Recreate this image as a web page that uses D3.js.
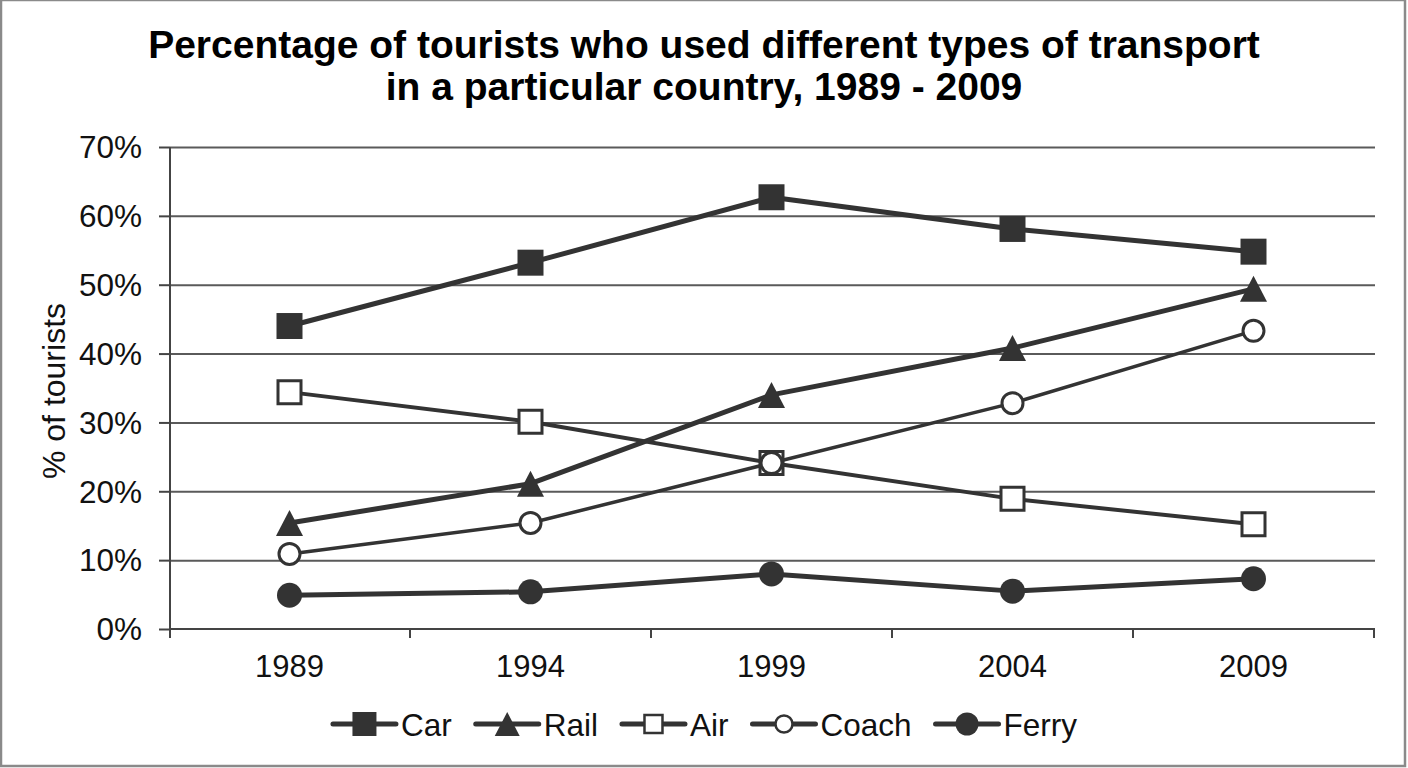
<!DOCTYPE html>
<html><head><meta charset="utf-8">
<script src="https://cdn.jsdelivr.net/npm/d3@7"></script>
<style>
body{margin:0;background:#fff}
svg{display:block}
text{font-family:"Liberation Sans",Arial,Helvetica,sans-serif;fill:#111}
</style>
</head><body>
<svg id="c" width="1408" height="768"></svg>
<script>
// ---- data ----
const years = ["1989", "1994", "1999", "2004", "2009"];
const car   = [44.0, 53.2, 62.7, 58.1, 54.8];
const rail  = [15.4, 21.1, 34.0, 40.8, 49.4];
const air   = [34.4, 30.1, 24.1, 18.9, 15.2];
const coach = [10.9, 15.4, 24.1, 32.8, 43.3];
const ferry = [4.9, 5.4, 8.0, 5.5, 7.3];
const seriesNames = ["Car", "Rail", "Air", "Coach", "Ferry"];
const yTicks = [0, 10, 20, 30, 40, 50, 60, 70];
const titleLines = ["Percentage of tourists who used different types of transport",
                    "in a particular country, 1989 - 2009"];
const yLabel = "% of tourists";

// ---- styles ----
const INK = "#333";
const triangle = {
  draw(ctx, size) {
    const h = Math.sqrt(size);
    ctx.moveTo(0, -h / 2);
    ctx.lineTo(h * 0.52, h / 2);
    ctx.lineTo(-h * 0.52, h / 2);
    ctx.closePath();
  }
};
const styles = {
  Car:   {values: car,   type: d3.symbolSquare, size: 26 * 26, lsize: 24 * 24, fill: INK,    sw: 0, lw: 5},
  Rail:  {values: rail,  type: triangle,        size: 26 * 26, lsize: 24 * 24, fill: INK,    sw: 0, lw: 5},
  Air:   {values: air,   type: d3.symbolSquare, size: 23 * 23, lsize: 18 * 18, fill: "#fff", sw: 3, lw: 4},
  Coach: {values: coach, type: d3.symbolCircle, size: Math.PI * 10.5 * 10.5, lsize: Math.PI * 8.5 * 8.5, fill: "#fff", sw: 3, lw: 3.5},
  Ferry: {values: ferry, type: d3.symbolCircle, size: Math.PI * 12.5 * 12.5, lsize: Math.PI * 11.5 * 11.5, fill: INK, sw: 0, lw: 5}
};

const svg = d3.select("#c");
const L = 170, R = 1375, T = 147, B = 629;

// frame
svg.append("rect").attr("x", 1).attr("y", 0).attr("width", 1404).attr("height", 766)
  .attr("fill", "#fff").attr("stroke", "#8a8a8a").attr("stroke-width", 2.5);

// title
svg.append("g").selectAll("text").data(titleLines).join("text")
  .attr("x", 704).attr("y", (d, i) => 58 + i * 42)
  .attr("text-anchor", "middle")
  .style("font-weight", "bold").style("font-size", "39px").style("fill", "#000")
  .text(d => d);

// scales
const x = d3.scaleBand().domain(years).range([169, 1374]);
const y = d3.scaleLinear().domain([0, 70]).range([B, T]);

// gridlines
const grid = svg.append("g").attr("transform", `translate(${L},0)`)
  .call(d3.axisLeft(y).tickValues(yTicks.filter(t => t > 0)).tickSize(-(R - L)).tickFormat(""));
grid.select(".domain").remove();
grid.selectAll("line").attr("stroke", "#5a5a5a").attr("stroke-width", 2);

// y axis
const ya = svg.append("g").attr("transform", `translate(${L},0)`)
  .call(d3.axisLeft(y).tickValues(yTicks).tickSize(11).tickPadding(17).tickFormat(d => d + "%"));
ya.select(".domain").attr("stroke", "#444").attr("stroke-width", 2).attr("d", `M0,${T}V${B + 9}`);
ya.selectAll(".tick line").attr("stroke", "#444").attr("stroke-width", 2);
ya.selectAll(".tick text").style("font-size", "31.5px").attr("dy", "0.34em");

// x axis: baseline + boundary ticks + centred labels
svg.append("line").attr("x1", L).attr("x2", R).attr("y1", B).attr("y2", B)
  .attr("stroke", "#444").attr("stroke-width", 2);
const bounds = years.map(d => x(d)).concat([x.range()[1]]).slice(1);
svg.append("g").selectAll("line").data(bounds).join("line")
  .attr("x1", d => d).attr("x2", d => d).attr("y1", B).attr("y2", B + 9)
  .attr("stroke", "#444").attr("stroke-width", 2);
const xa = svg.append("g").attr("transform", `translate(0,${B})`)
  .call(d3.axisBottom(x).tickSize(0).tickPadding(0));
xa.select(".domain").remove();
xa.selectAll(".tick text").style("font-size", "31px").attr("y", 48).attr("dy", 0);

// y label
svg.append("text").attr("transform", `translate(65,${(T + B) / 2 + 3}) rotate(-90)`)
  .attr("text-anchor", "middle").style("font-size", "32px").text(yLabel);

// series
const line = d3.line().x((d, i) => x(years[i]) + x.bandwidth() / 2).y(d => y(d));
seriesNames.forEach(name => {
  const s = styles[name];
  const g = svg.append("g");
  g.append("path").datum(s.values).attr("d", line)
    .attr("fill", "none").attr("stroke", INK).attr("stroke-width", s.lw)
    .attr("stroke-linejoin", "round").attr("stroke-linecap", "round");
  g.selectAll("path.m").data(s.values).join("path").attr("class", "m")
    .attr("transform", (d, i) => `translate(${x(years[i]) + x.bandwidth() / 2},${y(d)})`)
    .attr("d", d3.symbol(s.type, s.size))
    .attr("fill", s.fill).attr("stroke", s.sw ? INK : "none").attr("stroke-width", s.sw);
});

// legend
const leg = svg.append("g");
const LEG_Y = 724, SEG = 63, GAP_T = 5, GAP_I = 24;
let cx = 0;
seriesNames.forEach(name => {
  const g = leg.append("g");
  const s = styles[name];
  g.append("line").attr("x1", 0).attr("x2", SEG).attr("y1", 0).attr("y2", 0)
    .attr("stroke", INK).attr("stroke-width", 5).attr("stroke-linecap", "round");
  g.append("path").attr("transform", `translate(${SEG / 2},0)`)
    .attr("d", d3.symbol(s.type, s.lsize))
    .attr("fill", s.fill).attr("stroke", s.sw ? INK : "none").attr("stroke-width", s.sw ? 2.5 : 0);
  const t = g.append("text").attr("x", SEG + GAP_T).attr("y", 11.5)
    .style("font-size", "31.5px").text(name);
  const w = SEG + GAP_T + t.node().getComputedTextLength();
  g.attr("transform", `translate(${cx},${LEG_Y})`);
  cx += w + GAP_I;
});
const totalW = cx - GAP_I;
leg.attr("transform", `translate(${705 - totalW / 2},0)`);
</script>
</body></html>
